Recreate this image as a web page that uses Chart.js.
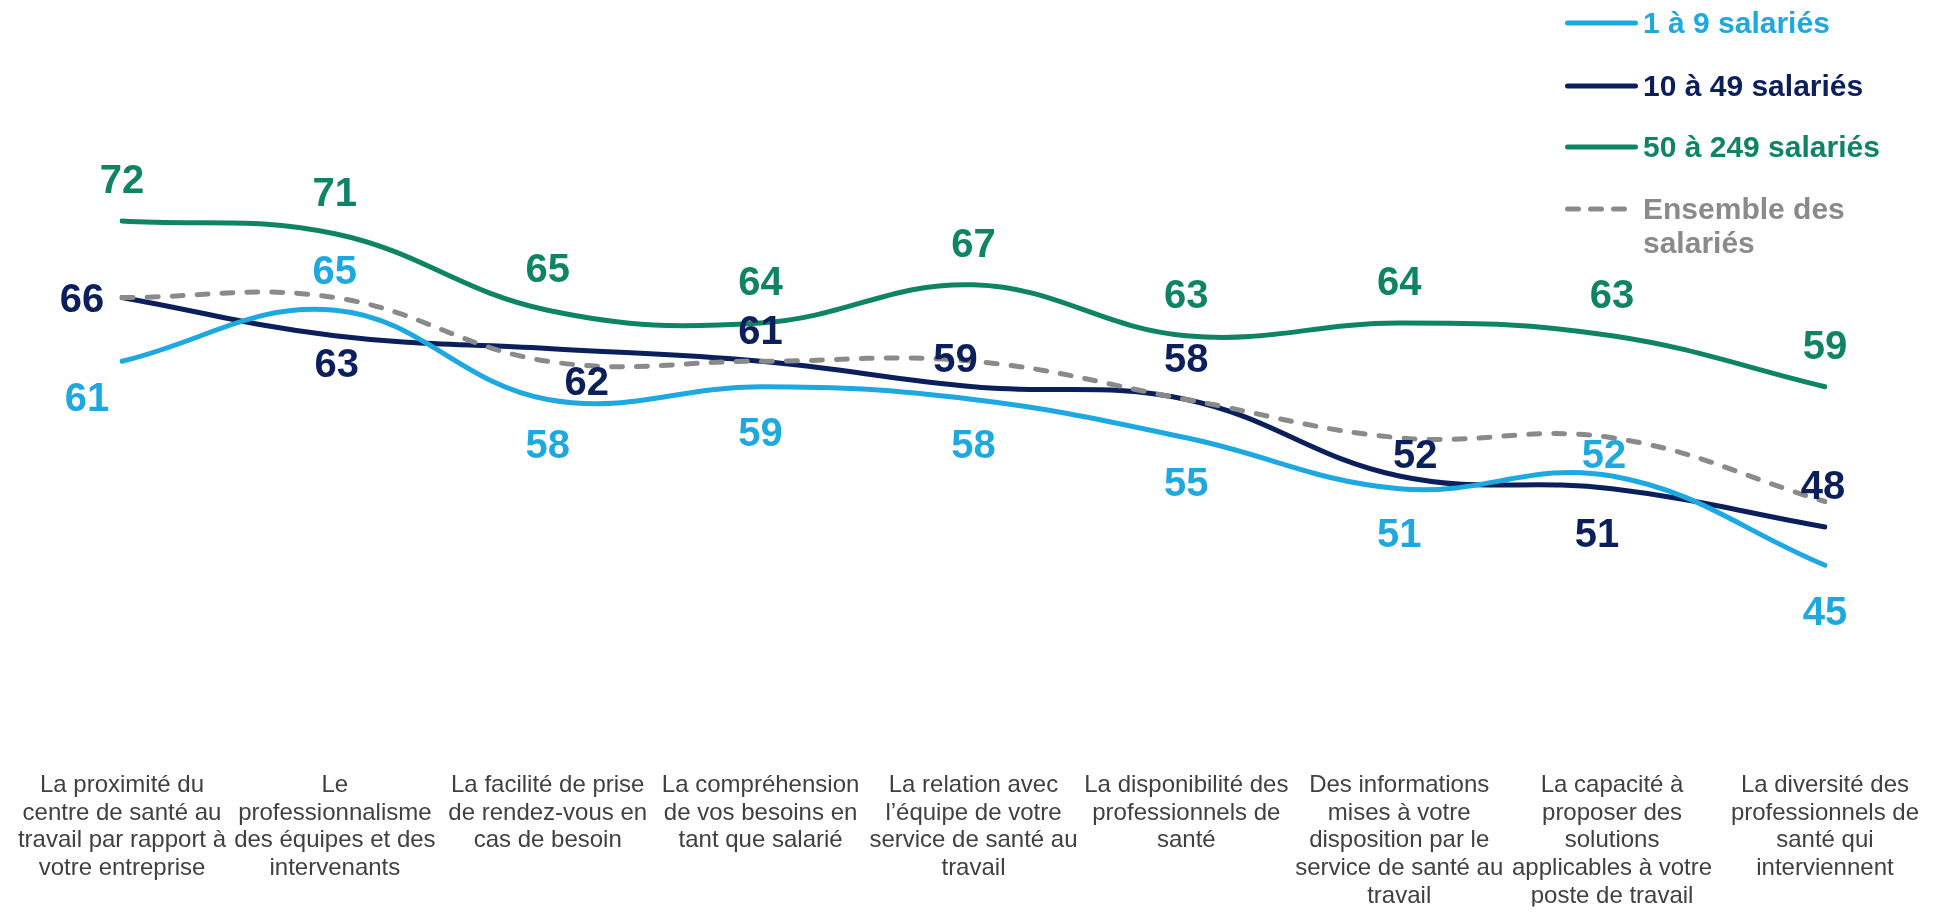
<!DOCTYPE html>
<html>
<head>
<meta charset="utf-8">
<script src="https://cdn.jsdelivr.net/npm/chart.js@4.4.1/dist/chart.umd.min.js"></script>
<style>
html,body{margin:0;padding:0;background:#ffffff;overflow:hidden;}
canvas{display:block;}
</style>
</head>
<body>
<canvas id="chart" width="1934" height="914"></canvas>
<script>
// ---------- DATA ----------
const categories = [
  ["La proximité du", "centre de santé au", "travail par rapport à", "votre entreprise"],
  ["Le", "professionnalisme", "des équipes et des", "intervenants"],
  ["La facilité de prise", "de rendez-vous en", "cas de besoin"],
  ["La compréhension", "de vos besoins en", "tant que salarié"],
  ["La relation avec", "l’équipe de votre", "service de santé au", "travail"],
  ["La disponibilité des", "professionnels de", "santé"],
  ["Des informations", "mises à votre", "disposition par le", "service de santé au", "travail"],
  ["La capacité à", "proposer des", "solutions", "applicables à votre", "poste de travail"],
  ["La diversité des", "professionnels de", "santé qui", "interviennent"]
];
const series1to9    = [61, 65, 58, 59, 58, 55, 51, 52, 45];
const series10to49  = [66, 63, 62, 61, 59, 58, 52, 51, 48];
const series50to249 = [72, 71, 65, 64, 67, 63, 64, 63, 59];
const seriesEnsemble = [66, 66, 61, 61, 61, 58, 55, 55, 50];
const seriesNames = ["1 à 9 salariés", "10 à 49 salariés", "50 à 249 salariés", "Ensemble des salariés"];
const yMin = 30;
const yMax = 80;

// ---------- STYLE ----------
const FONT = '"Liberation Sans", Arial, Helvetica, sans-serif';
const C_LIGHT = '#1EA8E0';
const C_NAVY  = '#0B1F5C';
const C_GREEN = '#0E8465';
const C_GRAY  = '#8A8A8A';

// value-label placement relative to each point (dx, dy in px)
const place1to9    = [[-35,36],[0,-40],[0,44],[0,45],[0,44],[0,44],[0,44],[-8,-22],[0,46]];
const place10to49  = [[-40,0],[2,27],[39,32],[0,-31],[-18,-29],[0,-42],[16,-22],[-15,44],[-2,-42]];
const place50to249 = [[0,-42],[0,-42],[0,-42],[0,-42],[0,-42],[0,-42],[0,-42],[0,-42],[0,-42]];
const labelNudgeY = 3;

const valueLabels = {
  id: 'valueLabels',
  afterDatasetsDraw(chart) {
    const ctx = chart.ctx;
    ctx.save();
    ctx.font = 'bold 40px ' + FONT;
    ctx.textAlign = 'center';
    ctx.textBaseline = 'middle';
    chart.data.datasets.forEach((ds, di) => {
      if (!ds.labelPlace) return;
      const meta = chart.getDatasetMeta(di);
      meta.data.forEach((pt, i) => {
        const p = ds.labelPlace[i];
        ctx.fillStyle = ds.borderColor;
        ctx.fillText(String(ds.data[i]), pt.x + p[0], pt.y + p[1] + labelNudgeY);
      });
    });
    ctx.restore();
  }
};

const customLegend = {
  id: 'customLegend',
  afterDraw(chart) {
    const ctx = chart.ctx;
    const x0 = 1567.5, x1 = 1635.5, tx = 1643;
    const rows = [23, 86, 147, 209];
    const lineH = 34;
    ctx.save();
    ctx.font = 'bold 30px ' + FONT;
    ctx.textAlign = 'left';
    ctx.textBaseline = 'middle';
    chart.data.datasets.forEach((ds, i) => {
      const y = rows[i];
      ctx.strokeStyle = ds.borderColor;
      ctx.lineWidth = 5;
      ctx.lineCap = 'round';
      if (ds.borderDash && ds.borderDash.length) {
        ctx.setLineDash([11, 12]);
        ctx.beginPath(); ctx.moveTo(x0, y); ctx.lineTo(1624.5, y); ctx.stroke();
        ctx.setLineDash([]);
      } else {
        ctx.beginPath(); ctx.moveTo(x0, y); ctx.lineTo(x1, y); ctx.stroke();
      }
      const words = ds.label.split(' ');
      const lines = [];
      let cur = '';
      words.forEach(w => {
        const t = cur ? cur + ' ' + w : w;
        if (ctx.measureText(t).width > 250 && cur) { lines.push(cur); cur = w; } else { cur = t; }
      });
      if (cur) lines.push(cur);
      ctx.fillStyle = ds.borderColor;
      lines.forEach((l, k) => ctx.fillText(l, tx, y + 2 + k * lineH));
    });
    ctx.restore();
  }
};

const common = { borderWidth: 5, tension: 0.4, pointRadius: 0, pointHoverRadius: 0, fill: false, borderCapStyle: 'round', borderJoinStyle: 'round' };

new Chart(document.getElementById('chart'), {
  type: 'line',
  data: {
    labels: categories,
    datasets: [
      Object.assign({ label: seriesNames[0], data: series1to9, borderColor: C_LIGHT, order: 1, labelPlace: place1to9 }, common),
      Object.assign({ label: seriesNames[1], data: series10to49, borderColor: C_NAVY, order: 2, labelPlace: place10to49 }, common),
      Object.assign({ label: seriesNames[2], data: series50to249, borderColor: C_GREEN, order: 3, labelPlace: place50to249 }, common),
      Object.assign({ label: seriesNames[3], data: seriesEnsemble, borderColor: C_GRAY, order: 0, borderDash: [11, 14] }, common)
    ]
  },
  options: {
    responsive: false,
    devicePixelRatio: 1,
    animation: false,
    events: [],
    layout: { padding: { top: 119, left: 122, right: 109, bottom: 7.5 } },
    plugins: { legend: { display: false }, tooltip: { enabled: false } },
    scales: {
      x: {
        grid: { display: false, drawTicks: false },
        border: { display: false },
        ticks: {
          color: '#404040',
          font: { family: FONT, size: 24, lineHeight: 1.155 },
          padding: 15,
          maxRotation: 0,
          minRotation: 0,
          autoSkip: false
        },
        afterFit(scale) { scale.height = 150; }
      },
      y: { display: false, min: yMin, max: yMax }
    }
  },
  plugins: [valueLabels, customLegend]
});
</script>
</body>
</html>
